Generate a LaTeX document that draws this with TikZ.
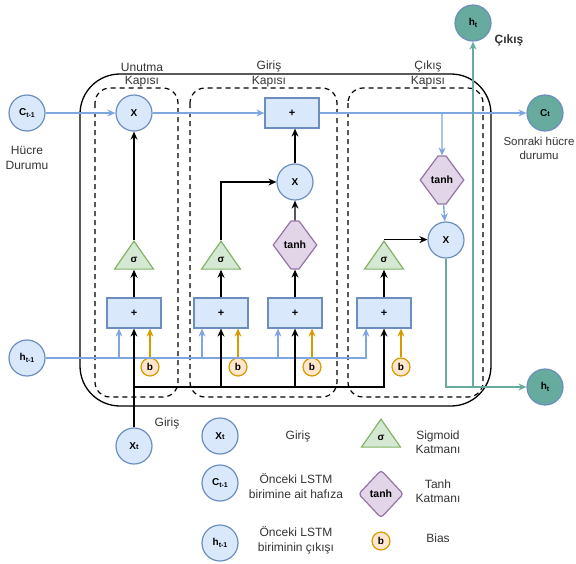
\documentclass[tikz,border=0pt]{standalone}
\usepackage{fontspec}
\setmainfont{Liberation Sans}
\usetikzlibrary{arrows.meta,shapes.geometric,shapes.symbols}
\definecolor{cellblue}{HTML}{DAE8FC}
\definecolor{cellbluedraw}{HTML}{6C8EBF}
\definecolor{flowblue}{HTML}{7EA6E0}
\definecolor{siggreen}{HTML}{D5E8D4}
\definecolor{siggreendraw}{HTML}{82B366}
\definecolor{tanhpurple}{HTML}{E1D5E7}
\definecolor{tanhpurpledraw}{HTML}{9673A6}
\definecolor{biasfill}{HTML}{FFE6CC}
\definecolor{biasdraw}{HTML}{D79B00}
\definecolor{outteal}{HTML}{67AB9F}
\definecolor{inktext}{HTML}{333333}
\newcommand\lowsub[1]{\raisebox{-0.4ex}{\fontsize{7}{8}\selectfont #1}}
\newcommand\flatsub[1]{{\fontsize{7.5}{8}\selectfont #1}}

\begin{document}
\begin{tikzpicture}[x=1pt,y=-1pt,
  font=\fontsize{12}{14.5}\selectfont, text=inktext,
  state/.style={circle, draw=cellbluedraw, fill=cellblue, line width=1.2pt,
    minimum size=36pt, inner sep=0pt, text=black, font=\bfseries\fontsize{10}{12}\selectfont},
  outstate/.style={state, fill=outteal},
  sumbox/.style={rectangle, draw=cellbluedraw, fill=cellblue, line width=1.2pt,
    minimum width=54pt, minimum height=30pt, inner sep=0pt, text=black,
    font=\bfseries\fontsize{11}{12}\selectfont},
  sigmanode/.style={isosceles triangle, isosceles triangle stretches,
    shape border rotate=90, draw=siggreendraw, fill=siggreen, line width=1.2pt,
    minimum width=39pt, minimum height=28pt, inner sep=0pt, text=black,
    font=\bfseries\fontsize{10}{12}\selectfont},
  tanhnode/.style={signal, signal to=west and east, signal pointer angle=107,
    draw=tanhpurpledraw, fill=tanhpurple, line width=1.2pt,
    minimum height=48pt, inner sep=0pt, text=black,
    font=\bfseries\fontsize{10.5}{12}\selectfont},
  tanhkey/.style={diamond, draw=tanhpurpledraw, fill=tanhpurple, line width=1.2pt,
    minimum width=45pt, minimum height=48pt, inner sep=0pt, rounded corners=3pt,
    text=black, font=\bfseries\fontsize{10.5}{12}\selectfont},
  biasnode/.style={circle, draw=biasdraw, fill=biasfill, line width=1.2pt,
    minimum size=18pt, inner sep=0pt, text=black, font=\bfseries\fontsize{10}{12}\selectfont},
  gatebox/.style={draw, dash pattern=on 5pt off 4pt, line width=1.2pt, rounded corners=15pt},
  tip/.style={-{Stealth[length=8pt,width=7pt]}},
  blueflow/.style={draw=flowblue, line width=1.4pt},
  blackflow/.style={draw=black, line width=1.4pt},
  biasflow/.style={draw=biasdraw, line width=1.4pt},
  tealflow/.style={draw=outteal, line width=1.4pt},
  caption/.style={align=center, inner sep=0pt}
]
\useasboundingbox (0,0) rectangle (576,563);

% cell outline and the three gate regions
\draw[line width=1.3pt, rounded corners=40pt] (80,74) rectangle (491,406);
\draw[gatebox] (95,88) rectangle (178,397);
\draw[gatebox] (190,88) rectangle (337,397);
\draw[gatebox] (348,88) rectangle (483,397);
\node[caption] (lblF1) at (142,67) {Unutma};
\node[caption] (lblF2) at (142,82) {Kapısı};
\node[caption] (lblI1) at (269,66) {Giriş};
\node[caption] (lblI2) at (269,82) {Kapısı};
\node[caption] (lblO1) at (428,66) {Çıkış};
\node[caption] (lblO2) at (428,82) {Kapısı};

% inputs and outputs of the cell
\node[state] (Cprev) at (27,113) {C\lowsub{t-1}};
\node[state] (hprev) at (27,358) {h\lowsub{t-1}};
\node[state] (xt) at (134,446) {X\flatsub{t}};
\node[outstate] (Ct) at (545,113) {C\flatsub{t}};
\node[outstate] (htTop) at (473,23) {h\lowsub{t}};
\node[outstate] (htR) at (545,387) {h\lowsub{t}};
\node[caption] (lblC) at (27,158) {Hücre\\Durumu};
\node[caption, font=\fontsize{11.5}{14}\selectfont] (lblCt) at (539,148) {Sonraki hücre\\durumu};
\node[caption, font=\bfseries\fontsize{12}{14}\selectfont] (lblOut) at (509,40) {Çıkış};
\node[caption] (lblX) at (167,423) {Giriş};

% forget gate
\node[state] (fX) at (134,113) {X};
\node[sumbox] (fsum) at (134,313) {+};
\node[sigmanode] (fsig) at (134,260) {σ};
\node[biasnode] (bF) at (150,367) {b};

% input gate
\node[sumbox] (iSum) at (292,113) {+};
\node[state] (iX) at (295,182) {X};
\node[sumbox] (isum) at (221,313) {+};
\node[sigmanode] (isig) at (221,260) {σ};
\node[sumbox] (tsum) at (295,313) {+};
\node[tanhnode] (tanhA) at (295,245) {\makebox[8pt]{tanh}};
\node[biasnode] (bI) at (238,367) {b};
\node[biasnode] (bT) at (312,367) {b};

% output gate
\node[sumbox] (osum) at (384,313) {+};
\node[sigmanode] (osig) at (384,260) {σ};
\node[state] (oX) at (446,240) {X};
\node[tanhnode] (tanhB) at (442,180) {\makebox[8pt]{tanh}};
\node[biasnode] (bO) at (401,367) {b};

% cell state path
\coordinate (tap) at (442,113);
\draw[blueflow, tip] (Cprev) -- (fX);
\draw[blueflow, tip] (fX) -- (iSum);
\draw[blueflow, tip] (iSum) -- (Ct);
\draw[blueflow, tip] (tap) -- (tanhB);
\draw[blueflow, tip] (tanhB) -- (oX);

% previous hidden state feeding every sum
\coordinate (hend) at (366,358);
\draw[blueflow, tip] (hprev) -- (hend) -- (hend |- osum.south);
\draw[blueflow, tip] ([xshift=-15pt]fsum.south |- hprev) -- ([xshift=-15pt]fsum.south);
\draw[blueflow, tip] ([xshift=-19pt]isum.south |- hprev) -- ([xshift=-19pt]isum.south);
\draw[blueflow, tip] ([xshift=-17pt]tsum.south |- hprev) -- ([xshift=-17pt]tsum.south);

% biases
\draw[biasflow, tip] (bF) -- (bF |- fsum.south);
\draw[biasflow, tip] (bI) -- (bI |- isum.south);
\draw[biasflow, tip] (bT) -- (bT |- tsum.south);
\draw[biasflow, tip] (bO) -- (bO |- osum.south);

% current input feeding every sum
\coordinate (xbus) at (134,387);
\draw[blackflow, tip] (xt) -- (fsum);
\draw[blackflow, tip] (xbus) -| (osum.south);
\draw[blackflow, tip] (isum |- xbus) -- (isum);
\draw[blackflow, tip] (tsum |- xbus) -- (tsum);

% gate internals
\draw[blackflow, tip] (fsum) -- (fsig.lower side);
\draw[blackflow, tip] (fsig.apex) -- (fX);
\draw[blackflow, tip] (isum) -- (isig.lower side);
\draw[blackflow, tip] (isig.apex) |- (iX);
\draw[blackflow, tip] (tsum) -- (tanhA);
\draw[blackflow, tip] (tanhA) -- (iX);
\draw[blackflow, tip] (iX) -- (iX |- iSum.south);
\draw[blackflow, tip] (osum) -- (osig.lower side);
\draw[blackflow, tip] (osig.apex) -- (osig.apex -| oX.west);

% hidden state outputs
\coordinate (tJoin) at (473,387);
\draw[tealflow, tip] (oX) |- (htR);
\draw[tealflow, tip] (tJoin) -- (htTop);

% legend
\node[state] (kX) at (220,436) {X\flatsub{t}};
\node[state] (kC) at (220,483) {C\lowsub{t-1}};
\node[state] (kH) at (220,543) {h\lowsub{t-1}};
\node[caption] (kXt) at (298,436) {Giriş};
\node[caption] (kCt) at (296,486) {Önceki LSTM\\birimine ait hafıza};
\node[caption] (kHt) at (296,540) {Önceki LSTM\\biriminin çıkışı};
\node[sigmanode] (kS) at (381,438) {σ};
\node[tanhkey] (kT) at (381,494) {tanh};
\node[biasnode] (kB) at (381,541) {b};
\node[caption] (kSt) at (438,442) {Sigmoid\\Katmanı};
\node[caption] (kTt) at (438,491) {Tanh\\Katmanı};
\node[caption] (kBt) at (438,538) {Bias};
\end{tikzpicture}
\end{document}
